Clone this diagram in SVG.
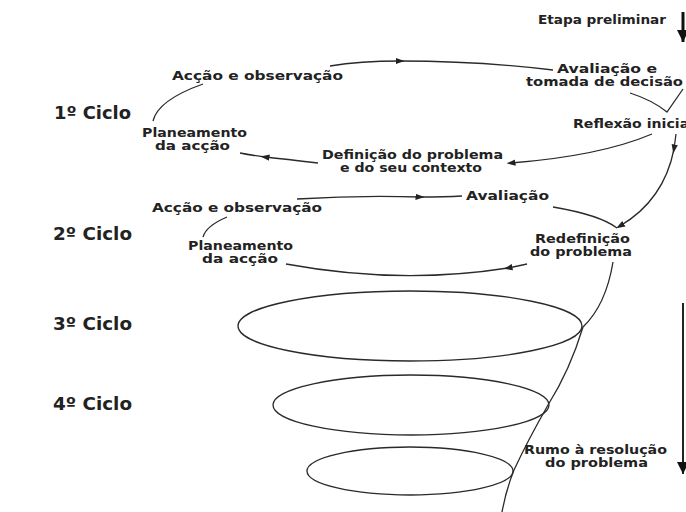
<svg xmlns="http://www.w3.org/2000/svg" width="686" height="512" viewBox="0 0 686 512">
<style>
.t{font-family:"DejaVu Sans","Liberation Sans",sans-serif;font-weight:bold;font-size:11.5px;fill:#222}
.c{font-family:"DejaVu Sans","Liberation Sans",sans-serif;font-weight:bold;font-size:17px;fill:#222}
.l{fill:none;stroke:#2a2a2a;stroke-width:1.3}
</style>
<defs>
<marker id="ah" viewBox="0 0 10 10" refX="5" refY="5" markerWidth="9" markerHeight="9" markerUnits="userSpaceOnUse" orient="auto">
<path d="M0,1.5 L10,5 L0,8.5 z" fill="#222"/>
</marker>
<marker id="big" viewBox="0 0 10 10" refX="10" refY="5" markerWidth="12" markerHeight="12" markerUnits="userSpaceOnUse" orient="auto">
<path d="M0,0 L10,5 L0,10 z" fill="#111"/>
</marker>
</defs>
<rect width="686" height="512" fill="#fff"/>

<g id="etapa"><text class="t" x="538" y="24" textLength="128" lengthAdjust="spacingAndGlyphs">Etapa preliminar</text></g>
<g id="avaliacao1"><text class="t" x="557" y="73" textLength="100" lengthAdjust="spacingAndGlyphs">Avaliação e</text><text class="t" x="526" y="85.5" textLength="157" lengthAdjust="spacingAndGlyphs">tomada de decisão</text></g>
<g id="accao1"><text class="t" x="172" y="80" textLength="171" lengthAdjust="spacingAndGlyphs">Acção e observação</text></g>
<g id="ciclo1"><text class="c" x="54" y="119" textLength="77" lengthAdjust="spacingAndGlyphs">1º Ciclo</text></g>
<g id="planeamento1"><text class="t" x="142" y="137" textLength="105" lengthAdjust="spacingAndGlyphs">Planeamento</text><text class="t" x="155" y="149.5" textLength="75" lengthAdjust="spacingAndGlyphs">da acção</text></g>
<g id="reflexao"><text class="t" x="573" y="128" textLength="121" lengthAdjust="spacingAndGlyphs">Reflexão inicial</text></g>
<g id="definicao"><text class="t" x="322" y="159" textLength="181" lengthAdjust="spacingAndGlyphs">Definição do problema</text><text class="t" x="340" y="172" textLength="142" lengthAdjust="spacingAndGlyphs">e do seu contexto</text></g>

<g id="avaliacao2"><text class="t" x="466" y="200" textLength="83" lengthAdjust="spacingAndGlyphs">Avaliação</text></g>
<g id="accao2"><text class="t" x="152" y="212" textLength="170" lengthAdjust="spacingAndGlyphs">Acção e observação</text></g>
<g id="ciclo2"><text class="c" x="53" y="240" textLength="79" lengthAdjust="spacingAndGlyphs">2º Ciclo</text></g>
<g id="planeamento2"><text class="t" x="188" y="250" textLength="105" lengthAdjust="spacingAndGlyphs">Planeamento</text><text class="t" x="202" y="262.5" textLength="76" lengthAdjust="spacingAndGlyphs">da acção</text></g>
<g id="redefinicao"><text class="t" x="535" y="243" textLength="95" lengthAdjust="spacingAndGlyphs">Redefinição</text><text class="t" x="530" y="255.5" textLength="102" lengthAdjust="spacingAndGlyphs">do problema</text></g>

<g id="ciclo3"><text class="c" x="53" y="330" textLength="79" lengthAdjust="spacingAndGlyphs">3º Ciclo</text><ellipse class="l" cx="410" cy="326" rx="172" ry="35"/></g>
<g id="ciclo4"><text class="c" x="53" y="410" textLength="79" lengthAdjust="spacingAndGlyphs">4º Ciclo</text><ellipse class="l" cx="411" cy="405" rx="138" ry="30"/></g>
<g id="ciclo5"><ellipse class="l" cx="410" cy="471" rx="103" ry="24"/></g>
<g id="rumo"><text class="t" x="524" y="454" textLength="143" lengthAdjust="spacingAndGlyphs">Rumo à resolução</text><text class="t" x="545" y="466.5" textLength="103" lengthAdjust="spacingAndGlyphs">do problema</text></g>

<g id="connectors">
<path d="M683,12 L683,42" stroke="#111" stroke-width="3" fill="none" marker-end="url(#big)"/>
<path class="l" d="M330,66 Q360,61 400,61 Q480,61 553,70" marker-mid="url(#ah)"/>
<path class="l" d="M203,84 Q158,100 153,121"/>
<path class="l" d="M318,163 Q285,159 265,157 Q250,155 240,153" marker-mid="url(#ah)"/>
<path class="l" d="M652,134 Q600,156 511,163" marker-end="url(#ah)"/>
<path class="l" d="M630,93 Q652,100 667,112 L683,89"/>
<path class="l" d="M676,134 L674,149 Q664,200 620,226" marker-mid="url(#ah)" marker-end="url(#ah)"/>
<path class="l" d="M297,199 Q360,195 420,197 Q445,197 462,196" marker-mid="url(#ah)"/>
<path class="l" d="M553,207 Q600,215 617,228"/>
<path class="l" d="M227,217 Q206,226 203,237"/>
<path class="l" d="M527,264 Q518,266 508,268 Q400,285 286,264" marker-mid="url(#ah)"/>
<path class="l" d="M613,262 Q606,305 583,327 Q570,370 548,405 Q528,440 514,470 Q506,490 502,512"/>
<path d="M683,303 L683,474" stroke="#222" stroke-width="2" fill="none" marker-end="url(#big)"/>
</g>
</svg>
